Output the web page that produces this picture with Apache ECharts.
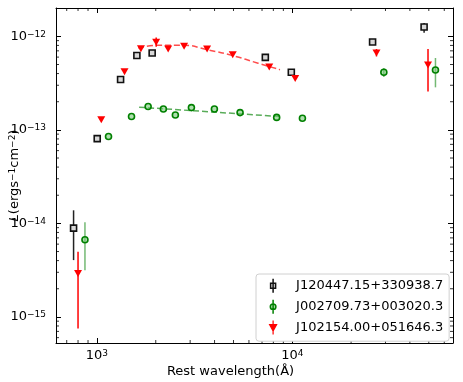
<!DOCTYPE html>
<html>
<head>
<meta charset="utf-8">
<script src="https://cdn.jsdelivr.net/npm/echarts@6/dist/echarts.min.js"></script>
<style>
html, body { margin: 0; padding: 0; background: #fff; }
#graph { width: 463px; height: 382px; }
</style>
</head>
<body>
<div id="graph"></div>
<script>
var names = ['J120447.15+330938.7', 'J002709.73+003020.3', 'J102154.00+051646.3'];

// J120447.15+330938.7 (black squares)
var blackWave = [759, 1003, 1321, 1601, 1917, 7278, 9886, 25770, 47300];
var blackL = [8.9e-15, 8.07e-14, 3.46e-13, 6.25e-13, 6.64e-13, 5.96e-13, 4.13e-13, 8.71e-13, 1.26e-12];
var blackLo = [4.05e-15, null, null, null, null, null, null, null, 1.09e-12];
var blackHi = [1.38e-14, null, null, null, null, null, null, null, 1.39e-12];

// J002709.73+003020.3 (green circles)
var greenWave = [868, 1146, 1503, 1828, 2188, 2520, 3045, 3992, 5403, 8318, 11270, 29430, 54080];
var greenL = [6.68e-15, 8.48e-14, 1.39e-13, 1.78e-13, 1.67e-13, 1.44e-13, 1.73e-13, 1.67e-13, 1.53e-13, 1.36e-13, 1.33e-13, 4.13e-13, 4.36e-13];
var greenLo = [3.16e-15, null, null, null, null, null, null, null, null, null, null, 3.67e-13, 2.85e-13];
var greenHi = [1.03e-14, null, null, null, null, null, null, null, null, null, null, 4.58e-13, 5.87e-13];

// J102154.00+051646.3 (red triangles)
var redWave = [800, 1052, 1384, 1679, 2010, 2315, 2793, 3663, 4955, 7623, 10350, 26980, 49530];
var redL = [2.92e-15, 1.28e-13, 4.19e-13, 7.38e-13, 8.63e-13, 7.32e-13, 7.82e-13, 7.32e-13, 6.37e-13, 4.70e-13, 3.55e-13, 6.64e-13, 4.94e-13];
var redLo = [7.52e-16, null, null, null, 7.76e-13, null, null, null, null, null, null, 6.1e-13, 2.58e-13];
var redHi = [4.97e-15, null, null, null, 9.7e-13, null, null, null, null, null, null, 7.33e-13, 7.33e-13];

// dashed fits
var redFitWave = [1626, 2107, 2761, 3663, 4977, 6681, 8651];
var redFitL = [7.51e-13, 8.05e-13, 8.05e-13, 7.20e-13, 6.21e-13, 5.16e-13, 4.40e-13];
var greenFitWave = [1644, 8651];
var greenFitL = [1.75e-13, 1.39e-13];

var xMin = 617, xMax = 66500, yMin = 5.26e-16, yMax = 2.01e-12;

// minor tick positions
var xMinor = [];
var yMinor = [];
[100, 1000, 10000].forEach(function (d) {
    for (var k = 2; k <= 9; k++) {
        if (d * k > xMin && d * k < xMax) xMinor.push(d * k);
    }
});
[1e-16, 1e-15, 1e-14, 1e-13, 1e-12].forEach(function (d) {
    for (var k = 2; k <= 9; k++) {
        if (d * k > yMin && d * k < yMax * 0.99) yMinor.push(d * k);
    }
});

function zip(a, b) {
    return a.map(function (v, i) { return [v, b[i]]; });
}
function errData(w, lo, hi) {
    var out = [];
    w.forEach(function (v, i) {
        if (lo[i] != null) out.push([v, lo[i], hi[i]]);
    });
    return out;
}
function expLabel(v) {
    var e = Math.round(Math.log10(v));
    return '10{sup|' + String(e).replace('-', '\u2212') + '}';
}

var font = 'DejaVu Sans';
var labelRich = {
    sup: { fontSize: 9, fontFamily: font, color: '#000', verticalAlign: 'top', lineHeight: 10 }
};

function makeX(pos, show) {
    return {
        type: 'log', position: pos, min: xMin, max: xMax,
        axisLine: { show: true, onZero: false, lineStyle: { color: '#000', width: 1 } },
        axisTick: { show: true, inside: true, length: 5, lineStyle: { color: '#000', width: 1 } },
        splitLine: { show: false },
        axisLabel: {
            show: show, showMinLabel: false, showMaxLabel: false, margin: 6,
            color: '#000', fontFamily: font, fontSize: 13,
            formatter: expLabel, rich: labelRich
        },
        name: show ? 'Rest wavelength(\u00c5)' : '',
        nameLocation: 'middle', nameGap: 22, nameMoveOverlap: false,
        nameTextStyle: { color: '#000', fontFamily: font, fontSize: 13, padding: [0, 48, 0, 0] }
    };
}
function makeY(pos, show) {
    return {
        type: 'log', position: pos, min: yMin, max: yMax,
        axisLine: { show: true, onZero: false, lineStyle: { color: '#000', width: 1 } },
        axisTick: { show: true, inside: true, length: 5, lineStyle: { color: '#000', width: 1 } },
        splitLine: { show: false },
        axisLabel: {
            show: show, showMinLabel: false, showMaxLabel: false, margin: 10,
            color: '#000', fontFamily: font, fontSize: 13,
            formatter: expLabel, rich: labelRich
        },
        name: show ? '{it|L}(ergs{sup|\u22121}cm{sup|\u22122})' : '',
        nameLocation: 'middle', nameGap: 35, nameMoveOverlap: false,
        nameTextStyle: {
            color: '#000', fontFamily: font, fontSize: 13,
            rich: {
                it: { fontStyle: 'italic', fontFamily: font, fontSize: 13, color: '#000' },
                sup: { fontSize: 9, fontFamily: font, color: '#000', verticalAlign: 'top', lineHeight: 9 }
            }
        }
    };
}

function errBar(color) {
    return function (params, api) {
        var p1 = api.coord([api.value(0), api.value(1)]);
        var p2 = api.coord([api.value(0), api.value(2)]);
        return {
            type: 'line',
            shape: { x1: p1[0], y1: p1[1], x2: p2[0], y2: p2[1] },
            style: { stroke: color, lineWidth: 1.5 }
        };
    };
}
function minorXTick(params, api) {
    var cs = params.coordSys;
    var x = api.coord([api.value(0), yMin])[0];
    var st = { stroke: '#000', lineWidth: 0.8 };
    return {
        type: 'group', children: [
            { type: 'line', shape: { x1: x, y1: cs.y + cs.height, x2: x, y2: cs.y + cs.height - 3 }, style: st },
            { type: 'line', shape: { x1: x, y1: cs.y, x2: x, y2: cs.y + 3 }, style: st }
        ]
    };
}
function minorYTick(params, api) {
    var cs = params.coordSys;
    var y = api.coord([xMin, api.value(1)])[1];
    var st = { stroke: '#000', lineWidth: 0.8 };
    return {
        type: 'group', children: [
            { type: 'line', shape: { x1: cs.x, y1: y, x2: cs.x + 3, y2: y }, style: st },
            { type: 'line', shape: { x1: cs.x + cs.width, y1: y, x2: cs.x + cs.width - 3, y2: y }, style: st }
        ]
    };
}

var dom = document.getElementById('graph');
var myChart = echarts.init(dom, null, { renderer: 'canvas' });

var option = {
    animation: false,
    backgroundColor: '#fff',
    grid: { left: 56, right: 10, top: 8, bottom: 39, containLabel: false, outerBoundsMode: 'none' },
    xAxis: [makeX('bottom', true), makeX('top', false)],
    yAxis: [makeY('left', true), makeY('right', false)],
    legend: {
        data: [
            { name: names[0], icon: 'path://M4,0L4,14M1.5,4.5L6.5,4.5L6.5,9.5L1.5,9.5Z',
              itemStyle: { color: '#e8e8e8', borderColor: '#111', borderWidth: 1.5 } },
            { name: names[1], icon: 'path://M4,0L4,14M6.8,7A2.8,2.8,0,1,1,1.2,7A2.8,2.8,0,1,1,6.8,7Z',
              itemStyle: { color: 'rgba(120,200,120,0.6)', borderColor: '#008000', borderWidth: 1.5 } },
            { name: names[2], icon: 'path://M4,0L4,14M0.5,4L7.5,4L4,10.5Z',
              itemStyle: { color: '#ff0000', borderColor: '#ff0000', borderWidth: 1.2 } }
        ],
        orient: 'vertical',
        left: 256, top: 274,
        padding: [4, 6, 6, 13],
        itemWidth: 8, itemHeight: 14, itemGap: 5.5,
        symbolRotate: 0,
        backgroundColor: '#fff',
        borderColor: '#d0d0d0', borderWidth: 1, borderRadius: 3,
        textStyle: { color: '#000', fontFamily: font, fontSize: 13, padding: [0, 0, 0, 14] }
    },
    series: [
        { type: 'custom', renderItem: minorXTick, data: xMinor.map(function (v) { return [v, 1e-13]; }), silent: true, z: 1 },
        { type: 'custom', renderItem: minorYTick, data: yMinor.map(function (v) { return [1000, v]; }), silent: true, z: 1 },
        {
            type: 'line', data: zip(greenFitWave, greenFitL), showSymbol: false, symbol: 'none',
            lineStyle: { color: 'rgba(0,128,0,0.65)', width: 1.5, type: [6, 3] }, z: 2
        },
        {
            type: 'line', data: zip(redFitWave, redFitL), showSymbol: false, symbol: 'none', smooth: true,
            lineStyle: { color: 'rgba(255,0,0,0.7)', width: 1.5, type: [6, 3] }, z: 2
        },
        { type: 'custom', renderItem: errBar('#222'), data: errData(blackWave, blackLo, blackHi), z: 3 },
        {
            type: 'scatter', name: names[0], data: zip(blackWave, blackL),
            symbol: 'rect', symbolSize: 6,
            itemStyle: { color: '#d8d8d8', borderColor: '#111', borderWidth: 1.6, opacity: 1 }, z: 4
        },
        { type: 'custom', renderItem: errBar('rgba(0,128,0,0.55)'), data: errData(greenWave, greenLo, greenHi), z: 5 },
        {
            type: 'scatter', name: names[1], data: zip(greenWave, greenL),
            symbol: 'circle', symbolSize: 6,
            itemStyle: { color: 'rgba(120,200,120,0.6)', borderColor: '#008000', borderWidth: 1.6, opacity: 1 }, z: 6
        },
        { type: 'custom', renderItem: errBar('#ff0000'), data: errData(redWave, redLo, redHi), z: 7 },
        {
            type: 'scatter', name: names[2], data: zip(redWave, redL),
            symbol: 'triangle', symbolSize: [8, 7], symbolRotate: 180,
            itemStyle: { color: '#ff0000', opacity: 1 }, z: 8
        }
    ]
};
myChart.setOption(option, true);
</script>
</body>
</html>
